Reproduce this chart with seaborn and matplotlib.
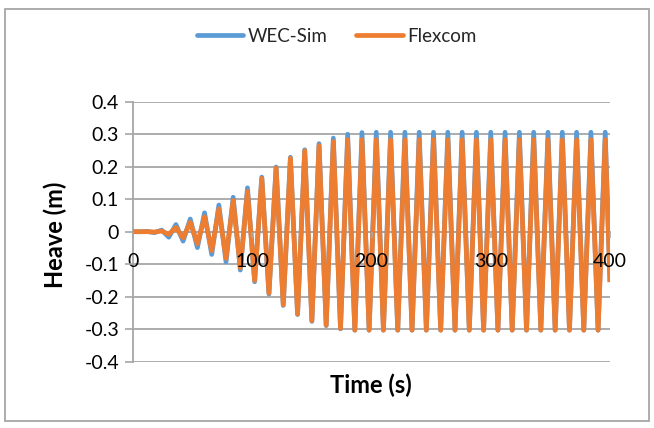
import numpy as np
import pandas as pd
import seaborn as sns
import matplotlib
matplotlib.use("Agg")
import matplotlib.pyplot as plt
from matplotlib.patches import Rectangle
from matplotlib.lines import Line2D

# ---- data (extrema of each half cycle) ----
time_s = [0, 6, 12, 18, 24, 30, 36, 42, 48, 54, 60, 66, 72, 78, 84, 90, 96,
          102, 108, 114, 120, 126, 132, 138, 144, 150, 156, 162, 168, 174,
          180, 186, 192, 198, 204, 210, 216, 222, 228, 234, 240, 246, 252,
          258, 264, 270, 276, 282, 288, 294, 300, 306, 312, 318, 324, 330,
          336, 342, 348, 354, 360, 366, 372, 378, 384, 390, 396, 400]

wec_sim = [0.000, 0.000, 0.001, -0.003, 0.005, -0.017, 0.022, -0.029,
           0.039, -0.049, 0.058, -0.070, 0.082, -0.093, 0.106, -0.118,
           0.135, -0.154, 0.168, -0.192, 0.199, -0.227, 0.229, -0.255,
           0.252, -0.276, 0.271, -0.289, 0.288, -0.299, 0.300, -0.303,
           0.305, -0.303,
           0.306, -0.303, 0.306, -0.303, 0.306, -0.303, 0.306, -0.303,
           0.306, -0.303, 0.306, -0.303, 0.306, -0.303, 0.306, -0.303,
           0.306, -0.303, 0.306, -0.303, 0.306, -0.303, 0.306, -0.303,
           0.306, -0.303, 0.306, -0.303, 0.306, -0.303, 0.306, -0.303,
           0.306, -0.155]

flexcom = [0.000, 0.000, 0.000, -0.001, 0.002, -0.008, 0.013, -0.019,
           0.029, -0.037, 0.046, -0.058, 0.070, -0.082, 0.096, -0.111,
           0.124, -0.150, 0.164, -0.189, 0.196, -0.225, 0.226, -0.253,
           0.249, -0.274, 0.265, -0.288, 0.277, -0.298, 0.283, -0.303,
           0.283, -0.303,
           0.283, -0.303, 0.283, -0.303, 0.283, -0.303, 0.283, -0.303,
           0.283, -0.303, 0.283, -0.303, 0.283, -0.303, 0.283, -0.303,
           0.283, -0.303, 0.283, -0.303, 0.283, -0.303, 0.283, -0.303,
           0.283, -0.303, 0.283, -0.303, 0.283, -0.303, 0.283, -0.303,
           0.283, -0.155]

series_names = ["WEC-Sim", "Flexcom"]
x_ticks = [0, 100, 200, 300, 400]
x_tick_labels = ["0", "100", "200", "300", "400"]
y_ticks = [0.4, 0.3, 0.2, 0.1, 0.0, -0.1, -0.2, -0.3, -0.4]
y_tick_labels = ["0.4", "0.3", "0.2", "0.1", "0", "-0.1", "-0.2", "-0.3", "-0.4"]
x_title = "Time (s)"
y_title = "Heave (m)"

colors = {"WEC-Sim": "#5B9BD5", "Flexcom": "#ED7D31"}

df = pd.concat([
    pd.DataFrame({"Time": time_s, "Heave": wec_sim, "Series": series_names[0]}),
    pd.DataFrame({"Time": time_s, "Heave": flexcom, "Series": series_names[1]}),
], ignore_index=True)

sns.set_theme(style="white")
plt.rcParams["font.family"] = ["Lato", "DejaVu Sans"]

W, H = 654, 428
fig = plt.figure(figsize=(W / 100, H / 100), dpi=100)
left, right, top, bottom = 133, 610, 101.7, 361.7
ax = fig.add_axes([left / W, 1 - bottom / H, (right - left) / W, (bottom - top) / H])

grid_c = "#A6A6A6"
# horizontal gridlines underneath the data
for yv in y_ticks:
    ax.axhline(yv, color=grid_c, linewidth=1.3, zorder=0.6)

sns.lineplot(data=df, x="Time", y="Heave", hue="Series", palette=colors,
             estimator=None, sort=False, linewidth=3.4, ax=ax, legend=False,
             solid_joinstyle="round", solid_capstyle="butt")

ax.set_xlim(0, 400)
ax.set_ylim(-0.4, 0.4)
ax.set_yticks(y_ticks)
ax.set_yticklabels(y_tick_labels)
ax.set_xticks(x_ticks)
ax.set_xticklabels(x_tick_labels)

ax.set_axisbelow(False)
ax.grid(False)
for s in ["top", "right"]:
    ax.spines[s].set_visible(False)
ax.spines["left"].set_color(grid_c)
ax.spines["left"].set_linewidth(1.3)
ax.spines["left"].set_zorder(0.7)
ax.spines["bottom"].set_position(("data", 0))
ax.spines["bottom"].set_color(grid_c)
ax.spines["bottom"].set_linewidth(1.3)
ax.spines["bottom"].set_zorder(0.7)

ax.tick_params(axis="y", which="major", direction="out", length=6, width=1.2,
               color=grid_c, left=True, pad=4, labelsize=14, labelcolor="#000000")
ax.tick_params(axis="x", which="major", direction="out", length=4, width=1.2,
               color=grid_c, bottom=True, pad=11, labelsize=14, labelcolor="#000000")
ax.xaxis.set_zorder(5)
ax.yaxis.set_zorder(5)

ax.set_xlabel("")
ax.set_ylabel("")
fig.text(371 / W, 1 - 385 / H, x_title, ha="center", va="center",
         fontsize=17, fontweight="bold", color="#000000")
fig.text(55 / W, 1 - 235 / H, y_title, ha="center", va="center", rotation=90,
         fontsize=17, fontweight="bold", color="#000000")

# legend
handles = [Line2D([0], [0], color=colors[n], linewidth=3.4) for n in series_names]
fig.legend(handles, series_names, loc="center", bbox_to_anchor=(0.515, 1 - 36 / H),
           ncol=2, frameon=False, fontsize=13.5, handlelength=2.5,
           handletextpad=0.25, columnspacing=1.5)

# chart border
fig.patches.append(Rectangle((5 / W, 1 - 421 / H), (649 - 5) / W, (421 - 9) / H,
                             transform=fig.transFigure, fill=False,
                             edgecolor="#A6A6A6", linewidth=1.3))

fig.savefig("out.png", dpi=100)
